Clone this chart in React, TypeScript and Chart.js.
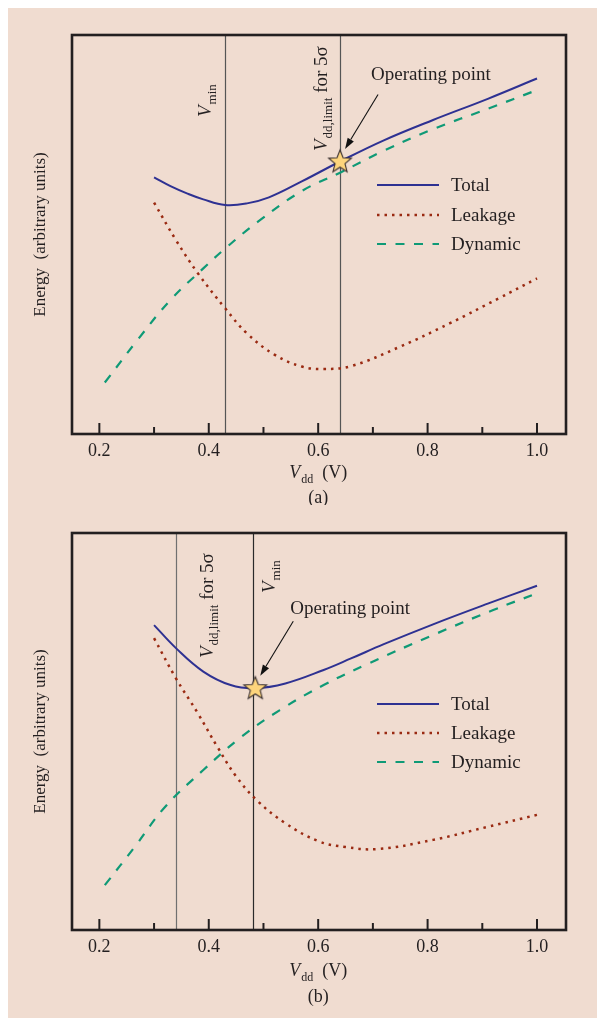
import React, { useEffect, useRef } from 'react';
import { Chart, registerables } from 'chart.js';

Chart.register(...registerables);

// ---------------- data ----------------
const xTickValues = [0.2, 0.4, 0.6, 0.8, 1.0];
const majorTickValues = [0.2, 0.4, 0.6, 0.8, 1.0];
const minorTickValues = [0.3, 0.5, 0.7, 0.9];
const seriesNames = ['Total', 'Leakage', 'Dynamic'];
const yTitle = 'Energy  (arbitrary units)';
const opLabel = 'Operating point';

// panel (a)
const totalAX = [0.30, 0.33, 0.36, 0.39, 0.43, 0.47, 0.51, 0.57, 0.64, 0.72, 0.81, 0.91, 1.00];
const totalAY = [64.3, 62.1, 60.3, 58.8, 57.4, 57.8, 59.3, 63.3, 68.3, 73.6, 78.7, 84.0, 89.1];
const leakAX = [0.30, 0.34, 0.38, 0.43, 0.47, 0.52, 0.57, 0.61, 0.66, 0.75, 0.84, 0.93, 1.00];
const leakAY = [58.0, 48.6, 40.3, 31.5, 25.2, 19.9, 16.9, 16.3, 17.0, 21.9, 27.7, 34.0, 39.0];
const dynAX = [0.21, 0.27, 0.33, 0.39, 0.43, 0.49, 0.57, 0.64, 0.72, 0.81, 0.91, 1.00];
const dynAY = [12.9, 23.6, 33.6, 41.5, 46.5, 53.2, 60.9, 65.5, 71.0, 76.4, 81.5, 86.2];
const vMinA = 0.43;
const vLimitA = 0.64;
const opPointA = { x: 0.64, y: 68.3 };

// panel (b)
const totalBX = [0.30, 0.34, 0.39, 0.44, 0.485, 0.54, 0.61, 0.66, 0.72, 0.81, 0.91, 1.00];
const totalBY = [76.8, 71.0, 65.1, 61.7, 60.9, 62.1, 65.5, 68.4, 72.0, 77.0, 82.2, 86.7];
const leakBX = [0.30, 0.34, 0.38, 0.415, 0.45, 0.49, 0.54, 0.60, 0.65, 0.71, 0.81, 0.91, 1.00];
const leakBY = [73.5, 63.4, 54.6, 46.3, 38.7, 32.4, 26.9, 22.4, 20.9, 20.4, 22.7, 26.0, 29.0];
const dynBX = [0.21, 0.265, 0.32, 0.39, 0.46, 0.53, 0.61, 0.69, 0.81, 0.92, 1.00];
const dynBY = [11.3, 21.0, 31.0, 40.3, 48.7, 55.4, 61.7, 67.0, 74.3, 80.6, 84.8];
const vMinB = 0.48;
const vLimitB = 0.34;
const opPointB = { x: 0.485, y: 60.9 };

// ---------------- styles ----------------
const FONT = '"Liberation Serif", "Times New Roman", serif';
const INK = '#231f20';
const BG = '#f0dcd0';
const seriesStyles = [
  { color: '#2e3192', dash: [] as number[], width: 2 },
  { color: '#9a2a12', dash: [2.5, 5], width: 2.5 },
  { color: '#0f9a76', dash: [9, 9.5], width: 2.2 },
];

type Part = { t: string; size: number; italic?: boolean; sub?: number; kern?: number };

const vMinParts: Part[] = [
  { t: 'V', size: 19, italic: true, kern: 1 },
  { t: 'min', size: 13, sub: 5 },
];
const vLimitParts: Part[] = [
  { t: 'V', size: 19, italic: true, kern: 1 },
  { t: 'dd,limit', size: 13, sub: 5 },
  { t: ' for 5σ', size: 19 },
];
const xTitleParts: Part[] = [
  { t: 'V', size: 18, italic: true, kern: 1 },
  { t: 'dd', size: 12, sub: 5 },
  { t: '  (V)', size: 18 },
];

const panels = [
  {
    caption: '(a)',
    top: 0,
    height: 497,
    padTop: 27,
    padBottom: 41,
    series: [
      { x: totalAX, y: totalAY },
      { x: leakAX, y: leakAY },
      { x: dynAX, y: dynAY },
    ],
    vLines: [
      { value: vMinA, color: '#555555', parts: vMinParts, dx: -14.5, y0: 109 },
      { value: vLimitA, color: '#555555', parts: vLimitParts, dx: -13.5, y0: 143 },
    ],
    op: opPointA,
    opText: { dx: 31, dy: -86 },
    legendRows: [177, 207, 236],
    titleY: 470,
    captionY: 495,
  },
  {
    caption: '(b)',
    top: 497,
    height: 510,
    padTop: 28,
    padBottom: 55,
    series: [
      { x: totalBX, y: totalBY },
      { x: leakBX, y: leakBY },
      { x: dynBX, y: dynBY },
    ],
    vLines: [
      { value: vLimitB, color: '#707070', parts: vLimitParts, dx: 37, y0: 153 },
      { value: vMinB, color: '#2a2a2a', parts: vMinParts, dx: 22.5, y0: 88 },
    ],
    op: opPointB,
    opText: { dx: 35, dy: -79 },
    legendRows: [199, 228, 257],
    titleY: 471,
    captionY: 497,
  },
];

function measureRich(ctx: CanvasRenderingContext2D, parts: Part[]) {
  let w = 0;
  for (const p of parts) {
    ctx.font = `${p.italic ? 'italic ' : ''}${p.size}px ${FONT}`;
    w += ctx.measureText(p.t).width + (p.kern || 0);
  }
  return w;
}

function drawRich(ctx: CanvasRenderingContext2D, parts: Part[], x: number, y: number) {
  let cx = x;
  ctx.textBaseline = 'alphabetic';
  ctx.textAlign = 'left';
  for (const p of parts) {
    ctx.font = `${p.italic ? 'italic ' : ''}${p.size}px ${FONT}`;
    ctx.fillText(p.t, cx, y + (p.sub || 0));
    cx += ctx.measureText(p.t).width + (p.kern || 0);
  }
}

function makeStar() {
  const c = document.createElement('canvas');
  c.width = 28;
  c.height = 28;
  const g = c.getContext('2d')!;
  const cx = 14, cy = 14.5, R = 12, r = 5.2;
  g.beginPath();
  for (let i = 0; i < 10; i++) {
    const ang = -Math.PI / 2 + (i * Math.PI) / 5;
    const rad = i % 2 === 0 ? R : r;
    const px = cx + rad * Math.cos(ang);
    const py = cy + rad * Math.sin(ang);
    if (i === 0) g.moveTo(px, py);
    else g.lineTo(px, py);
  }
  g.closePath();
  g.fillStyle = '#fdd47c';
  g.fill();
  g.strokeStyle = '#3a3030';
  g.lineWidth = 1.1;
  g.stroke();
  return c;
}

function Panel({ p }: { p: (typeof panels)[number] }) {
  const ref = useRef<HTMLCanvasElement>(null);

  useEffect(() => {
    const star = makeStar();
    const datasets: any[] = [
      {
        label: opLabel,
        data: [{ x: p.op.x, y: p.op.y }],
        pointStyle: star,
        pointRadius: 12,
        showLine: false,
        order: 0,
      },
      ...p.series.map((s, i) => ({
        label: seriesNames[i],
        data: s.x.map((x, j) => ({ x, y: s.y[j] })),
        borderColor: seriesStyles[i].color,
        borderDash: seriesStyles[i].dash,
        borderWidth: seriesStyles[i].width,
        pointRadius: 0,
        fill: false,
        tension: 0.4,
        order: 1,
      })),
    ];

    const decor = {
      id: 'decor',
      beforeDatasetsDraw(chart: any) {
        const { ctx, chartArea: a, scales } = chart;
        ctx.save();
        for (const v of p.vLines) {
          const px = Math.round(scales.x.getPixelForValue(v.value)) + 0.5;
          ctx.strokeStyle = v.color;
          ctx.lineWidth = 1.2;
          ctx.beginPath();
          ctx.moveTo(px, a.top);
          ctx.lineTo(px, a.bottom);
          ctx.stroke();
        }
        ctx.restore();
      },
      afterDraw(chart: any) {
        const { ctx, chartArea: a, scales } = chart;
        const xs = scales.x;
        const ys = scales.y;
        ctx.save();
        ctx.fillStyle = INK;
        ctx.strokeStyle = INK;

        // frame
        ctx.lineWidth = 2.6;
        ctx.strokeRect(a.left, a.top, a.right - a.left, a.bottom - a.top);

        // inward ticks
        ctx.lineWidth = 2;
        for (const v of majorTickValues) {
          const px = xs.getPixelForValue(v);
          ctx.beginPath();
          ctx.moveTo(px, a.bottom);
          ctx.lineTo(px, a.bottom - 11);
          ctx.stroke();
        }
        for (const v of minorTickValues) {
          const px = xs.getPixelForValue(v);
          ctx.beginPath();
          ctx.moveTo(px, a.bottom);
          ctx.lineTo(px, a.bottom - 7);
          ctx.stroke();
        }

        // rotated labels of the vertical lines
        for (const v of p.vLines) {
          const px = xs.getPixelForValue(v.value);
          ctx.save();
          ctx.translate(px + v.dx, v.y0);
          ctx.rotate(-Math.PI / 2);
          drawRich(ctx, v.parts, 0, 0);
          ctx.restore();
        }

        // x title
        const cxTitle = xs.getPixelForValue(0.6);
        const wT = measureRich(ctx, xTitleParts);
        drawRich(ctx, xTitleParts, cxTitle - wT / 2, p.titleY);

        // caption
        ctx.font = `18px ${FONT}`;
        ctx.textAlign = 'center';
        ctx.textBaseline = 'alphabetic';
        ctx.fillText(p.caption, cxTitle, p.captionY);

        // legend
        const lx0 = 369, lx1 = 431, tx = 443;
        p.legendRows.forEach((ry, i) => {
          const st = seriesStyles[i];
          ctx.save();
          ctx.strokeStyle = st.color;
          ctx.lineWidth = st.width;
          ctx.setLineDash(st.dash);
          ctx.beginPath();
          ctx.moveTo(lx0, ry);
          ctx.lineTo(lx1, ry);
          ctx.stroke();
          ctx.restore();
          ctx.font = `19px ${FONT}`;
          ctx.textAlign = 'left';
          ctx.textBaseline = 'middle';
          ctx.fillStyle = INK;
          ctx.fillText(seriesNames[i], tx, ry + 1);
        });

        // operating point arrow and text
        const sx = xs.getPixelForValue(p.op.x);
        const sy = ys.getPixelForValue(p.op.y);
        const tailX = sx + 38, tailY = sy - 67;
        const tipX = sx + 5, tipY = sy - 12.5;
        ctx.lineWidth = 1.1;
        ctx.strokeStyle = '#111';
        ctx.fillStyle = '#111';
        const ang = Math.atan2(tipY - tailY, tipX - tailX);
        const hl = 11, hw = 3.6;
        const bx = tipX - hl * Math.cos(ang), by = tipY - hl * Math.sin(ang);
        ctx.beginPath();
        ctx.moveTo(tailX, tailY);
        ctx.lineTo(bx, by);
        ctx.stroke();
        ctx.beginPath();
        ctx.moveTo(tipX, tipY);
        ctx.lineTo(bx + hw * Math.sin(ang), by - hw * Math.cos(ang));
        ctx.lineTo(bx - hw * Math.sin(ang), by + hw * Math.cos(ang));
        ctx.closePath();
        ctx.fill();

        ctx.fillStyle = INK;
        ctx.font = `19px ${FONT}`;
        ctx.textAlign = 'left';
        ctx.textBaseline = 'middle';
        ctx.fillText(opLabel, sx + p.opText.dx, sy + p.opText.dy);

        ctx.restore();
      },
    };

    const chart = new Chart(ref.current!, {
      type: 'line',
      data: { datasets },
      options: {
        animation: false,
        responsive: false,
        maintainAspectRatio: false,
        layout: { padding: { left: 0, right: 31, top: p.padTop, bottom: p.padBottom } },
        plugins: {
          legend: { display: false },
          tooltip: { enabled: false },
        },
        scales: {
          x: {
            type: 'linear',
            min: 0.15,
            max: 1.053,
            afterBuildTicks: (scale: any) => {
              scale.ticks = xTickValues.map((v) => ({ value: v }));
            },
            afterFit: (scale: any) => {
              scale.height = 30;
            },
            ticks: {
              autoSkip: false,
              maxRotation: 0,
              padding: 6,
              color: INK,
              font: { family: FONT, size: 18 },
              callback: (v: any) => Number(v).toFixed(1),
            },
            grid: { display: false, drawTicks: false },
            border: { display: false },
          },
          y: {
            type: 'linear',
            min: 0,
            max: 100,
            afterFit: (scale: any) => {
              scale.width = 64;
            },
            ticks: { display: false },
            grid: { display: false, drawTicks: false },
            border: { display: false },
            title: {
              display: true,
              text: yTitle,
              color: INK,
              font: { family: FONT, size: 17 },
              padding: { top: 22, bottom: 0 },
            },
          },
        },
      },
      plugins: [decor],
    } as any);

    return () => chart.destroy();
  }, []);

  return (
    <canvas
      ref={ref}
      width={589}
      height={p.height}
      style={{ position: 'absolute', left: 0, top: p.top, display: 'block' }}
    />
  );
}

export default function App() {
  return (
    <div style={{ position: 'relative', width: 589, height: 1010, background: BG }}>
      {panels.map((p, i) => (
        <Panel key={i} p={p} />
      ))}
    </div>
  );
}
